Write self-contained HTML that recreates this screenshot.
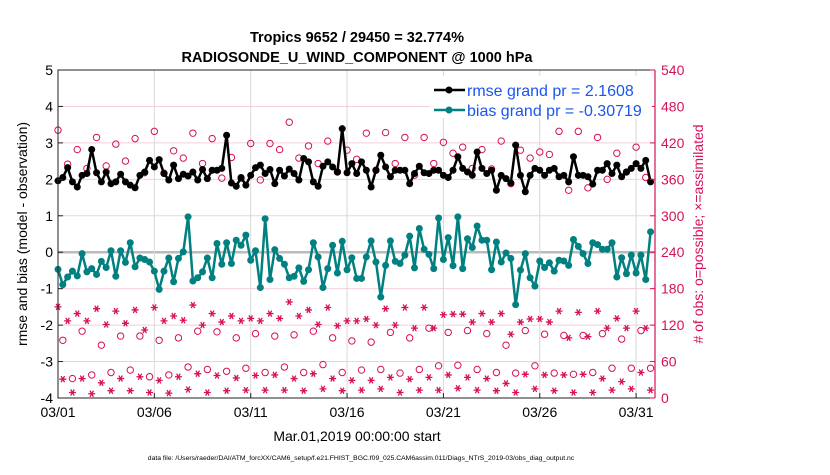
<!DOCTYPE html>
<html><head><meta charset="utf-8"><style>
body{margin:0;background:#fff;}
svg text{font-family:"Liberation Sans",sans-serif;}
</style></head><body>
<svg id="chart" width="830" height="470" viewBox="0 0 830 470" xmlns="http://www.w3.org/2000/svg">
<rect width="830" height="470" fill="#fff"/>
<text x="357" y="42" text-anchor="middle" font-size="14.5" font-weight="bold">Tropics 9652 / 29450 = 32.774%</text>
<text x="357" y="62" text-anchor="middle" font-size="14.5" font-weight="bold">RADIOSONDE_U_WIND_COMPONENT @ 1000 hPa</text>
<g id="grid"></g>
<g id="marks"></g>
<g id="axes"></g>
<text transform="translate(27,234) rotate(-90)" text-anchor="middle" font-size="14">rmse and bias (model - observation)</text>
<text transform="translate(703,234) rotate(-90)" text-anchor="middle" font-size="14" fill="#d6105a"># of obs: o=possible; ×=assimilated</text>
<text x="357" y="441" text-anchor="middle" font-size="14">Mar.01,2019 00:00:00 start</text>
<text x="361" y="460" text-anchor="middle" font-size="6.8">data file: /Users/raeder/DAI/ATM_forcXX/CAM6_setup/f.e21.FHIST_BGC.f09_025.CAM6assim.011/Diags_NTrS_2019-03/obs_diag_output.nc</text>
<g>
<rect x="430" y="76" width="222" height="42" fill="#fff"/>
<line x1="434" y1="90" x2="465" y2="90" stroke="#000" stroke-width="2.5"/>
<circle cx="449" cy="90" r="3.5" fill="#000"/>
<text x="467" y="96" font-size="16" fill="#1a55f0">rmse grand pr = 2.1608</text>
<line x1="434" y1="110" x2="465" y2="110" stroke="#008080" stroke-width="2.5"/>
<circle cx="449" cy="110" r="3.5" fill="#008080"/>
<text x="467" y="116" font-size="16" fill="#1a55f0">bias grand pr = -0.30719</text>
</g>
</svg>
<script>
const xTickLabels=["03/01","03/06","03/11","03/16","03/21","03/26","03/31"];
const xTickDays=[0,5,10,15,20,25,30];
const yTicksLeft=[5,4,3,2,1,0,-1,-2,-3,-4];
const yTicksRight=[0,60,120,180,240,300,360,420,480,540];
const rmse=[1.96,2.05,2.32,1.93,1.79,2.11,2.16,2.82,2.18,1.93,2.20,1.88,1.93,2.14,1.93,1.84,1.77,2.11,2.20,2.52,2.34,2.54,2.16,1.98,2.39,2.02,2.14,2.09,2.20,1.98,2.27,2.02,2.25,2.25,2.30,3.21,1.90,1.81,2.05,1.84,2.11,2.32,2.39,2.16,2.27,1.88,2.25,2.09,2.28,2.16,1.98,2.57,2.48,1.93,1.81,2.36,2.48,2.34,2.20,3.39,2.18,2.43,2.16,
2.48,2.25,1.79,2.25,2.66,2.34,2.07,2.25,2.25,2.25,1.88,2.16,2.36,2.18,2.16,2.25,2.25,2.11,2.05,2.25,2.62,2.30,2.20,2.11,2.75,2.30,2.16,2.25,1.70,2.11,2.02,1.90,2.94,2.11,1.66,2.11,2.30,2.25,2.11,2.25,2.30,2.07,2.11,1.93,2.62,2.11,2.11,2.07,1.87,2.25,2.25,2.43,2.16,2.39,2.07,2.20,2.30,2.43,2.30,2.52,1.93];
const bias=[-0.47,-0.89,-0.68,-0.52,-0.65,-0.04,-0.54,-0.45,-0.61,-0.25,-0.42,0.04,-0.66,0.04,-0.28,0.26,-0.40,-0.16,-0.20,-0.27,-0.52,-1.02,-0.52,-0.16,-0.81,-0.17,0.01,0.97,-0.79,-0.70,-0.54,-0.16,-0.70,0.24,-0.33,0.26,-0.31,0.33,0.19,0.47,-0.22,0.04,-0.97,0.92,-0.75,0.07,-0.17,-0.33,-0.70,-0.66,-0.43,-0.80,-0.48,0.26,-0.13,-0.97,-0.45,0.19,-0.57,0.30,-0.48,-0.15,-0.72,
-0.72,-0.13,0.31,-0.27,-1.23,-0.36,0.31,-0.25,-0.31,-0.08,0.44,-0.43,0.65,0.08,-0.06,-0.45,0.94,-0.20,0.40,-0.37,0.97,-0.45,0.37,0.13,0.72,0.33,0.33,-0.48,0.28,-0.27,-0.02,-0.17,-1.44,-0.49,-0.04,-0.70,-0.93,-0.24,-0.42,-0.29,-0.52,-0.22,-0.24,-0.36,0.35,0.16,-0.04,-0.31,0.26,0.21,0.08,0.08,0.26,-0.68,-0.15,-0.59,-0.08,-0.57,-0.08,-0.75,0.56];
const possibleMain=[441,385,409,378,429,382,418,390,427,371,439,370,407,395,436,386,427,362,396,362,419,359,419,409,454,395,415,386,423,372,408,393,436,375,437,386,429,367,429,386,421,403,413,378,409,377,423,353,408,395,405,401,439,342,439,346,429,360,403,372,413,363];
const assimMain=[150,127,139,127,147,121,143,123,145,112,149,127,135,128,153,120,139,125,135,127,131,127,139,131,158,135,145,121,149,119,127,127,130,120,147,120,149,115,149,115,137,138,138,125,139,125,139,105,125,130,130,125,143,99,141,101,143,115,131,115,143,115];
const possible06=[95,110,87,102,102,95,99,110,109,99,106,102,104,110,99,94,92,108,99,115,108,111,106,87,111,105,103,103,106,97,111];
const assim06=[31,32,25,32,35,29,35,40,37,33,37,38,32,40,32,29,29,34,31,34,38,34,32,24,39,38,38,39,32,27,42];
const possible18=[32,38,42,46,35,38,51,47,44,49,42,51,42,55,42,46,47,41,47,53,54,47,42,41,53,41,39,42,49,49,49];
const assim18=[9,7,12,12,9,8,14,9,12,13,13,13,12,15,12,13,15,9,13,13,16,13,12,9,15,12,9,9,13,15,13];

const NS="http://www.w3.org/2000/svg";
const X0=58,X1=655,Y0=70,Y1=398,PXDAY=19.27;
const xDay=d=>X0+d*PXDAY;
const xIdx=i=>xDay(i*0.25);
const yL=v=>Y1-(v+4)*(Y1-Y0)/9;
const yR=c=>Y1-c*(Y1-Y0)/540;
const RED="#d6105a";
function mk(tag,attrs,parent){const e=document.createElementNS(NS,tag);for(const k in attrs)e.setAttribute(k,attrs[k]);parent.appendChild(e);return e;}
const grid=document.getElementById('grid'),marks=document.getElementById('marks'),axes=document.getElementById('axes');

yTicksLeft.forEach(v=>{
  const l=mk('line',{x1:X0,x2:X1,y1:yL(v),y2:yL(v),stroke:v===0?'#bbb':'#f3cfdc','stroke-width':v===0?2.5:1},grid);
  
  
});
xTickDays.forEach((d,k)=>{
  if(k>0){const l=mk('line',{x1:xDay(d),x2:xDay(d),y1:Y0,y2:Y1,stroke:'#d8d8d8','stroke-width':1},grid);
  
  }
});

const obsSeries=[];
for(let i=0;i<124;i++){
  let p,a;
  if(i%2===0){p=possibleMain[i/2];a=assimMain[i/2];}
  else if(i%4===1){p=possible06[(i-1)/4];a=assim06[(i-1)/4];}
  else {p=possible18[(i-3)/4];a=assim18[(i-3)/4];}
  obsSeries.push([p,a]);
}
obsSeries.forEach((pa,i)=>{
  const x=xIdx(i);
  const c=mk('circle',{cx:x,cy:yR(pa[0]),r:3.2,fill:'none',stroke:RED,'stroke-width':1},marks);
  
  
  const y=yR(pa[1]),s=3.5;
  const a=mk('path',{d:`M${x-s},${y}H${x+s}M${x-s*0.5},${y-s*0.87}L${x+s*0.5},${y+s*0.87}M${x-s*0.5},${y+s*0.87}L${x+s*0.5},${y-s*0.87}`,stroke:RED,'stroke-width':1.3},marks);
  
  
});

function series(vals,color,name){
  const pts=vals.map((v,i)=>xIdx(i).toFixed(1)+','+yL(v).toFixed(1)).join(' ');
  const pl=mk('polyline',{points:pts,fill:'none',stroke:color,'stroke-width':2.5,'stroke-linejoin':'round'},marks);
  
  
  vals.forEach((v,i)=>{
    const c=mk('circle',{cx:xIdx(i),cy:yL(v),r:3.5,fill:color},marks);
    
    
  });
}
series(bias,'#008080','bias');
series(rmse,'#000','rmse');

const fr=mk('path',{d:`M${X1},${Y0}H${X0}V${Y1}H${X1}`,fill:'none',stroke:'#222','stroke-width':1},axes);


const ra=mk('line',{x1:X1,x2:X1,y1:Y0,y2:Y1,stroke:RED,'stroke-width':1.2},axes);


yTicksLeft.forEach(v=>{
  const t=mk('line',{x1:X0,x2:X0+5,y1:yL(v),y2:yL(v),stroke:'#222'},axes);
  
  
  const tx=mk('text',{x:X0-5,y:yL(v)+5,'text-anchor':'end','font-size':14},axes);
  tx.textContent=v;
  
  
});
yTicksRight.forEach(c=>{
  const t=mk('line',{x1:X1-5,x2:X1,y1:yR(c),y2:yR(c),stroke:RED},axes);
  
  
  const tx=mk('text',{x:X1+6,y:yR(c)+5,'font-size':14,fill:RED},axes);
  tx.textContent=c;
  
  
});
xTickDays.forEach((d,k)=>{
  const t=mk('line',{x1:xDay(d),x2:xDay(d),y1:Y1-5,y2:Y1,stroke:'#222'},axes);
  
  
  const tx=mk('text',{x:xDay(d),y:Y1+19,'text-anchor':'middle','font-size':14},axes);
  tx.textContent=xTickLabels[k];
  
  
});
</script>
</body></html>
